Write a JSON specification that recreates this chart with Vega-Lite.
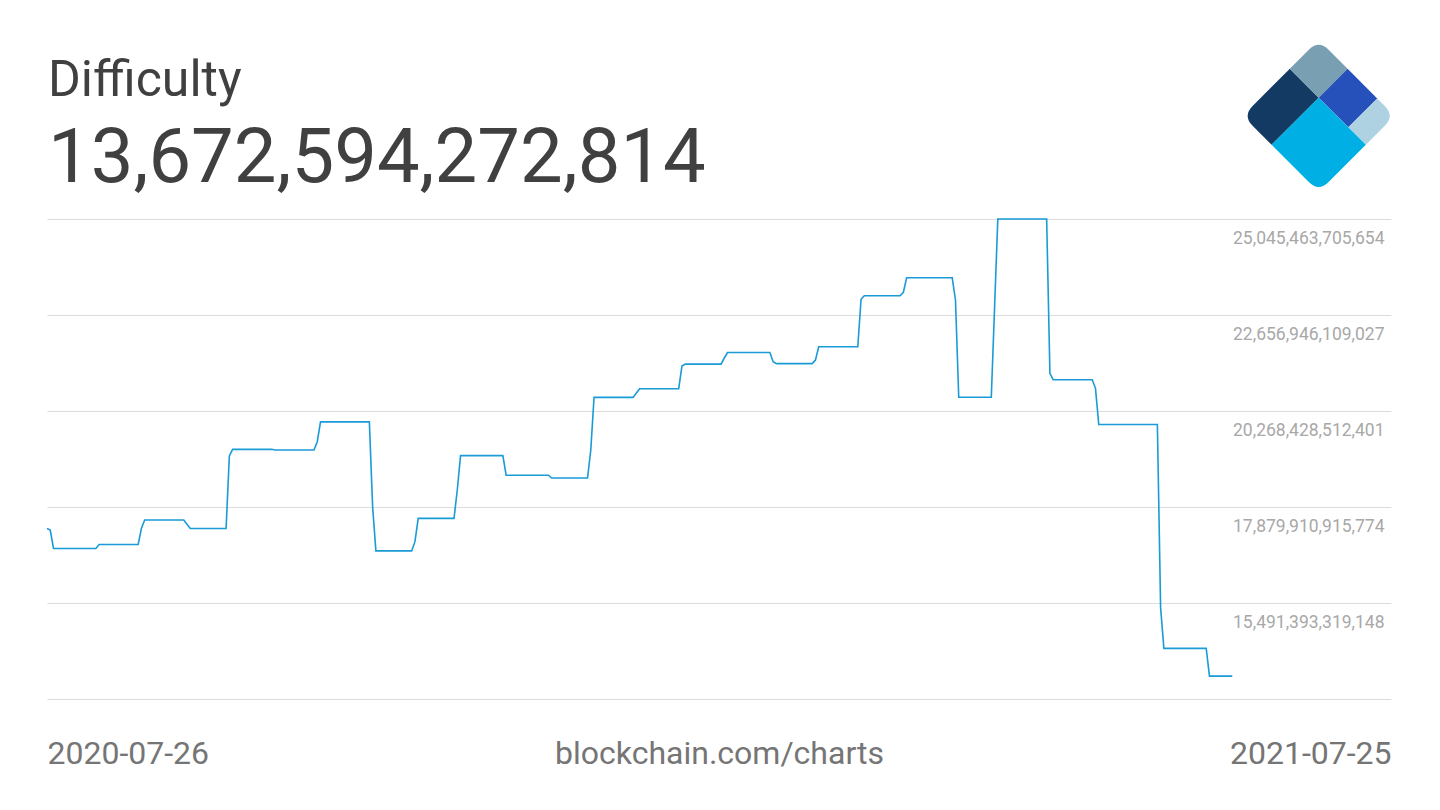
{
  "$schema": "https://vega.github.io/schema/vega-lite/v6.json",
  "width": 1344,
  "height": 480,
  "autosize": {"type": "none"},
  "padding": {"left": 47, "top": 219, "right": 49, "bottom": 111},
  "background": "#ffffff",
  "config": {
    "view": {"stroke": null},
    "font": "Roboto",
    "axis": {"labelFont": "Roboto", "titleFont": "Roboto"}
  },
  "title": {
    "text": "Difficulty",
    "subtitle": "13,672,594,272,814",
    "anchor": "start",
    "frame": "group",
    "font": "Roboto",
    "fontSize": 50,
    "fontWeight": "normal",
    "color": "#404040",
    "subtitleFont": "Roboto",
    "subtitleFontSize": 76,
    "subtitleFontWeight": "normal",
    "subtitleColor": "#404040",
    "subtitlePadding": 16,
    "offset": -152.2,
    "dx": 1
  },
  "layer": [
    {
      "data": {
        "values": [
          {"date": "2020-07-26", "difficulty": 17345948872516},
          {"date": "2020-07-27", "difficulty": 17307700000000},
          {"date": "2020-07-28", "difficulty": 16847561611550},
          {"date": "2020-08-10", "difficulty": 16847561611550},
          {"date": "2020-08-11", "difficulty": 16947802762182},
          {"date": "2020-08-23", "difficulty": 16947802762182},
          {"date": "2020-08-24", "difficulty": 17350000000000},
          {"date": "2020-08-25", "difficulty": 17557993035167},
          {"date": "2020-09-06", "difficulty": 17557993035167},
          {"date": "2020-09-08", "difficulty": 17345077949107},
          {"date": "2020-09-19", "difficulty": 17345077949107},
          {"date": "2020-09-20", "difficulty": 19149000000000},
          {"date": "2020-09-21", "difficulty": 19314656404097},
          {"date": "2020-10-03", "difficulty": 19314656404097},
          {"date": "2020-10-04", "difficulty": 19298087186263},
          {"date": "2020-10-16", "difficulty": 19298087186263},
          {"date": "2020-10-17", "difficulty": 19505000000000},
          {"date": "2020-10-18", "difficulty": 19997335994446},
          {"date": "2020-11-02", "difficulty": 19997335994446},
          {"date": "2020-11-03", "difficulty": 17887000000000},
          {"date": "2020-11-04", "difficulty": 16787779609194},
          {"date": "2020-11-15", "difficulty": 16787779609194},
          {"date": "2020-11-16", "difficulty": 17017000000000},
          {"date": "2020-11-17", "difficulty": 17596801059798},
          {"date": "2020-11-28", "difficulty": 17596801059798},
          {"date": "2020-11-29", "difficulty": 18303000000000},
          {"date": "2020-11-30", "difficulty": 19157154920953},
          {"date": "2020-12-13", "difficulty": 19157154920953},
          {"date": "2020-12-14", "difficulty": 18670168558399},
          {"date": "2020-12-27", "difficulty": 18670168558399},
          {"date": "2020-12-28", "difficulty": 18599593048299},
          {"date": "2021-01-08", "difficulty": 18599593048299},
          {"date": "2021-01-09", "difficulty": 19298000000000},
          {"date": "2021-01-10", "difficulty": 20607418304385},
          {"date": "2021-01-22", "difficulty": 20607418304385},
          {"date": "2021-01-23", "difficulty": 20716000000000},
          {"date": "2021-01-24", "difficulty": 20823531150112},
          {"date": "2021-02-05", "difficulty": 20823531150112},
          {"date": "2021-02-06", "difficulty": 21388000000000},
          {"date": "2021-02-07", "difficulty": 21434395961348},
          {"date": "2021-02-18", "difficulty": 21434395961348},
          {"date": "2021-02-19", "difficulty": 21587000000000},
          {"date": "2021-02-20", "difficulty": 21724134900047},
          {"date": "2021-03-05", "difficulty": 21724134900047},
          {"date": "2021-03-06", "difficulty": 21495000000000},
          {"date": "2021-03-07", "difficulty": 21448277761059},
          {"date": "2021-03-18", "difficulty": 21448277761059},
          {"date": "2021-03-19", "difficulty": 21537000000000},
          {"date": "2021-03-20", "difficulty": 21865558044610},
          {"date": "2021-04-01", "difficulty": 21865558044610},
          {"date": "2021-04-02", "difficulty": 23048000000000},
          {"date": "2021-04-03", "difficulty": 23137439666472},
          {"date": "2021-04-14", "difficulty": 23137439666472},
          {"date": "2021-04-15", "difficulty": 23222000000000},
          {"date": "2021-04-16", "difficulty": 23581981443663},
          {"date": "2021-04-30", "difficulty": 23581981443663},
          {"date": "2021-05-01", "difficulty": 23030000000000},
          {"date": "2021-05-02", "difficulty": 20608845737768},
          {"date": "2021-05-12", "difficulty": 20608845737768},
          {"date": "2021-05-13", "difficulty": 22831000000000},
          {"date": "2021-05-14", "difficulty": 25046487590083},
          {"date": "2021-05-29", "difficulty": 25046487590083},
          {"date": "2021-05-30", "difficulty": 21206000000000},
          {"date": "2021-05-31", "difficulty": 21047730572451},
          {"date": "2021-06-12", "difficulty": 21047730572451},
          {"date": "2021-06-13", "difficulty": 20833000000000},
          {"date": "2021-06-14", "difficulty": 19932791027262},
          {"date": "2021-07-02", "difficulty": 19932791027262},
          {"date": "2021-07-03", "difficulty": 15370000000000},
          {"date": "2021-07-04", "difficulty": 14363025673659},
          {"date": "2021-07-17", "difficulty": 14363025673659},
          {"date": "2021-07-18", "difficulty": 13672594272814},
          {"date": "2021-07-25", "difficulty": 13672594272814}
        ]
      },
      "mark": {"type": "line", "color": "#1a9bd7", "strokeWidth": 1.6, "interpolate": "linear"},
      "encoding": {
        "x": {
          "field": "date",
          "type": "temporal",
          "scale": {
            "domain": [
              {"year": 2020, "month": 7, "date": 26, "utc": true},
              {"year": 2021, "month": 9, "date": 11, "hours": 18, "utc": true}
            ]
          },
          "axis": {
            "values": [
              {"year": 2020, "month": 7, "date": 26, "utc": true},
              {"year": 2021, "month": 9, "date": 11, "hours": 18, "utc": true}
            ],
            "labelExpr": "datum.value < 1609459200000 ? '2020-07-26' : '2021-07-25'",
            "labelFlush": true,
            "labelOverlap": false,
            "domain": false,
            "ticks": false,
            "tickSize": 0,
            "grid": false,
            "labelFontSize": 32,
            "labelColor": "#757575",
            "labelBaseline": "alphabetic",
            "labelPadding": 64,
            "title": "blockchain.com/charts",
            "titleFontSize": 32,
            "titleFontWeight": "normal",
            "titleColor": "#757575",
            "titleBaseline": "alphabetic",
            "titleY": 64
          }
        },
        "y": {
          "field": "difficulty",
          "type": "quantitative",
          "scale": {"domain": [13102875722519, 25045463705654], "nice": false, "zero": false},
          "axis": {
            "orient": "right",
            "values": [13102875722519, 15491393319148, 17879910915774, 20268428512401, 22656946109027, 25045463705654],
            "labelExpr": "datum.value < 14000000000000 ? '' : format(datum.value, ',d')",
            "domain": false,
            "ticks": false,
            "tickSize": 0,
            "grid": true,
            "gridColor": "#dcdcdc",
            "gridWidth": 1,
            "labelAlign": "right",
            "labelPadding": -7,
            "labelBaseline": "alphabetic",
            "labelOffset": 24,
            "labelFontSize": 17.5,
            "labelColor": "#a8a8a8",
            "labelOverlap": false,
            "title": null
          }
        }
      }
    },
    {
      "data": {
        "values": [
          {"piece": "navy"},
          {"piece": "slate"},
          {"piece": "royal"},
          {"piece": "light"},
          {"piece": "cyan"}
        ]
      },
      "mark": {"type": "point", "filled": true, "opacity": 1, "strokeWidth": 0, "size": 23104},
      "encoding": {
        "x": {"datum": 0.94621, "type": "quantitative", "scale": {"domain": [0, 1]}, "axis": null},
        "y": {"datum": 1.21479, "type": "quantitative", "scale": {"domain": [0, 1]}, "axis": null},
        "shape": {
          "field": "piece",
          "type": "nominal",
          "scale": {
            "domain": ["navy", "slate", "royal", "light", "cyan"],
            "range": [
              "M-0.87,-0.13L-0.38,-0.62L0,-0.24L-0.62,0.38L-0.87,0.13Q-1,0,-0.87,-0.13Z",
              "M-0.38,-0.62L-0.13,-0.87Q0,-1,0.13,-0.87L0.38,-0.62L0,-0.24Z",
              "M0,-0.24L0.38,-0.62L0.77,-0.23L0.39,0.15Z",
              "M0.39,0.15L0.77,-0.23L0.87,-0.13Q1,0,0.87,0.13L0.62,0.38Z",
              "M-0.62,0.38L0,-0.24L0.62,0.38L0.13,0.87Q0,1,-0.13,0.87Z"
            ]
          },
          "legend": null
        },
        "color": {
          "field": "piece",
          "type": "nominal",
          "scale": {
            "domain": ["navy", "slate", "royal", "light", "cyan"],
            "range": ["#123a63", "#799fb3", "#2651ba", "#afd2e3", "#00b0e5"]
          },
          "legend": null
        }
      }
    }
  ],
  "resolve": {"scale": {"x": "independent", "y": "independent"}}
}
